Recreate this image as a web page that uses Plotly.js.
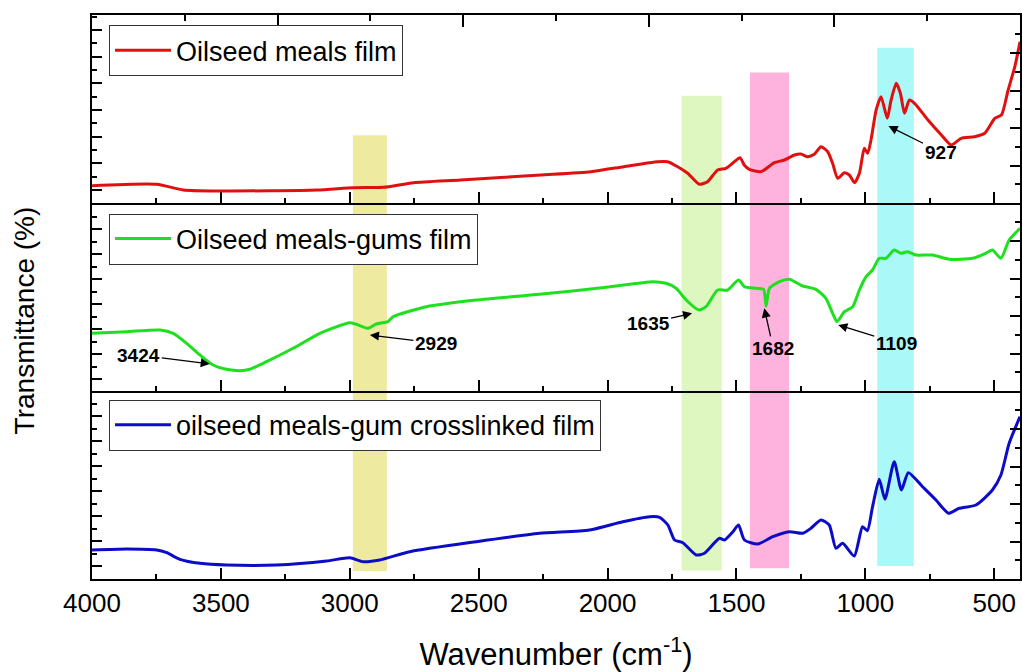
<!DOCTYPE html>
<html><head><meta charset="utf-8">
<script src="https://cdn.plot.ly/plotly-3.0.1.min.js"></script>
<style>html,body{margin:0;padding:0;background:#fff}#chart{width:1022px;height:672px}</style>
</head><body><div id="chart"></div>
<script>
// ---- data ----
const seriesNames = ["Oilseed meals film", "Oilseed meals-gums film", "oilseed meals-gum crosslinked film"];

const redWn = [4000,3749,3646,3503,3127,2986,2870,2753,2570,2259,2065,1937,1806,1767,1728,1689,1644,1612,1573,1541,1515,1486,1470,1450,1405,1353,1314,1275,1250,1224,1198,1172,1146,1127,1107,1081,1062,1042,1023,1004,991,978,958,939,915,900,880,864,848,829,809,757,705,667,628,576,537,498,472,446,420,400];
const redT  = [17.3,18.7,13,12,13,15.3,15.7,20.3,23,28,31.3,36.3,41.3,41.3,36.3,29.7,18.7,21.3,33,34.7,39.7,45.3,38,33.7,31.3,40.3,43,48,49,46.3,48.7,56.3,51.3,39.7,24.7,30.3,28,20.3,29.7,54.7,49.7,63,93,106.3,84.7,103,119.7,109.7,89.7,103,99.7,83,68,58,64.7,66.3,69.7,84.7,88,113,136.3,161.3];

const greenWn = [4000,3865,3736,3685,3633,3581,3530,3478,3426,3388,3323,3220,3116,3000,2974,2929,2897,2852,2832,2703,2509,2264,2005,1824,1773,1734,1695,1646,1618,1573,1534,1492,1469,1424,1395,1385,1372,1333,1295,1243,1192,1153,1127,1110,1081,1049,1023,997,972,946,920,888,862,836,804,739,674,584,533,507,474,442,400];
const greenT  = [57.7,59.3,61,57.7,47.7,36,26,21.7,20.3,21.7,29.3,42.7,57.7,68.3,66.7,62.7,67,69.3,74.3,84.3,91,96.7,103.7,109.3,107.7,102.7,91,81,84.3,101,101,111,104.3,102.7,101.7,85,102.7,109.3,111.7,105,101.7,92.7,77.7,69.3,79.3,84.3,101,114.3,121,132.7,132.7,141,137.7,139.3,136,136,131.7,132.7,137.7,141,132.7,151,162.7];

const blueWn = [4000,3866,3749,3710,3659,3581,3478,3284,3090,3000,2948,2884,2767,2509,2264,2070,1941,1837,1798,1766,1740,1708,1656,1624,1566,1547,1514,1492,1469,1417,1359,1295,1243,1211,1172,1140,1114,1088,1043,1011,992,972,946,924,888,860,833,778,726,677,636,571,507,474,442,400];
const blueT  = [29,30,29,26.3,19.7,15.7,14,14,18,21.3,17.3,19,27.3,37.3,45.7,49,57.3,62.3,61.7,54,39,36.3,24,25.7,40.7,39,47.3,54,39,35,42.3,47.3,45.7,50.7,59,54,30.7,35.7,23,52.3,48.3,72.3,99.7,79.7,117.3,89,106.3,92.3,79,65.7,70.7,74,89,104,135.7,162.3];

// highlighted wavenumber regions (cm-1)
const bandFrom = [2988, 1713, 1448, 954];
const bandTo   = [2856, 1557, 1296, 812];

// peak labels: text, wavenumber pointed at, transmittance pointed at, panel
const peakText  = ["927", "3424", "2929", "1635", "1682", "1109"];
const peakWn    = [910, 3543, 2922, 1672, 1392, 1105];
const peakT     = [77, 27, 56, 77.7, 82.7, 66];
const peakPanel = [1, 2, 2, 2, 2, 2];

const xTickVals  = [4000, 3500, 3000, 2500, 2000, 1500, 1000, 500];
const xTickText  = ["4000", "3500", "3000", "2500", "2000", "1500", "1000", "500"];

// ---- styling ----
const FONT = "Liberation Sans, Arial, Helvetica, sans-serif";
const lineColors = ["#e01010", "#1fe01f", "#0c0cc8"];
const bandColors = ["rgba(232,228,130,0.75)", "rgba(214,244,176,0.8)", "rgba(252,160,212,0.8)", "rgba(150,246,246,0.8)"];
const bandTop    = [0.787, 0.857, 0.898, 0.942];
const bandBottom = [0.014, 0.015, 0.019, 0.023];

const traces = [
  {x: redWn, y: redT, name: seriesNames[0], xaxis: "x3", yaxis: "y", legend: "legend",
   type: "scatter", mode: "lines", line: {color: lineColors[0], width: 3, shape: "spline", smoothing: 0.6}},
  {x: greenWn, y: greenT, name: seriesNames[1], xaxis: "x2", yaxis: "y2", legend: "legend2",
   type: "scatter", mode: "lines", line: {color: lineColors[1], width: 3, shape: "spline", smoothing: 0.6}},
  {x: blueWn, y: blueT, name: seriesNames[2], xaxis: "x", yaxis: "y3", legend: "legend3",
   type: "scatter", mode: "lines", line: {color: lineColors[2], width: 3, shape: "spline", smoothing: 0.6}},
  // empty helper traces so the decorative tick axes exist
  {x: [], y: [], xaxis: "x4", yaxis: "y", showlegend: false, hoverinfo: "skip"},
  {x: [], y: [], xaxis: "x3", yaxis: "y4", showlegend: false, hoverinfo: "skip"},
  {x: [], y: [], xaxis: "x2", yaxis: "y5", showlegend: false, hoverinfo: "skip"},
  {x: [], y: [], xaxis: "x", yaxis: "y6", showlegend: false, hoverinfo: "skip"}
];

const tickFont = {family: FONT, size: 26, color: "#000"};
function xAxis(anchor, labels, mirror) {
  return {
    anchor: anchor, domain: [0, 1], range: [4000, 400], autorange: false,
    tickmode: "array", tickvals: xTickVals, ticktext: xTickText,
    showticklabels: labels, tickfont: tickFont,
    ticks: "inside", ticklen: 11, tickwidth: 2, tickcolor: "#000",
    minor: {dtick: 250, tick0: 0, ticks: "inside", ticklen: 5, tickwidth: 2, tickcolor: "#000"},
    showline: true, linewidth: 2, linecolor: "#000", mirror: mirror,
    showgrid: false, zeroline: false, fixedrange: true
  };
}
function yAxis(domain, anchor, tick0, dtick) {
  return {
    domain: domain, anchor: anchor, range: [0, 188], autorange: false,
    tickmode: "linear", tick0: tick0, dtick: dtick, showticklabels: false,
    ticks: "inside", ticklen: 10, tickwidth: 2, tickcolor: "#000",
    minor: {tick0: tick0, dtick: dtick / 2, ticks: "inside", ticklen: 5, tickwidth: 2, tickcolor: "#000"},
    showline: true, linewidth: 2, linecolor: "#000", mirror: true,
    showgrid: false, zeroline: false, fixedrange: true
  };
}
function yRight(over, anchor) {
  return {
    overlaying: over, anchor: anchor, side: "right", range: [0, 188], autorange: false,
    tickmode: "linear", tick0: 0, dtick: 37.5, showticklabels: false,
    ticks: "inside", ticklen: 10, tickwidth: 2, tickcolor: "#000",
    minor: {tick0: 0, dtick: 18.75, ticks: "inside", ticklen: 5, tickwidth: 2, tickcolor: "#000"},
    showline: false, showgrid: false, zeroline: false, fixedrange: true
  };
}

const xMain = xAxis("y3", true, false);
xMain.title = {text: "Wavenumber (cm<sup>-1</sup>)", font: {family: FONT, size: 31, color: "#000"}, standoff: 26};

const shapes = bandFrom.map((b, i) => ({
  type: "rect", layer: "below", xref: "x", yref: "paper",
  x0: b, x1: bandTo[i], y0: bandBottom[i], y1: bandTop[i],
  fillcolor: bandColors[i], line: {width: 0}
}));

// pixel offsets from arrow head to label centre
const peakAx = [52, -71, 66, -44, 9, 58];
const peakAy = [26, -9, 8, 10, 40, 18];
const panelAxes = {1: ["x3", "y"], 2: ["x2", "y2"], 3: ["x", "y3"]};
const annotations = peakText.map((t, i) => ({
  text: "<b>" + t + "</b>", xref: panelAxes[peakPanel[i]][0], yref: panelAxes[peakPanel[i]][1],
  x: peakWn[i], y: peakT[i], ax: peakAx[i], ay: peakAy[i],
  showarrow: true, arrowhead: 2, arrowsize: 1.4, arrowwidth: 1.3, arrowcolor: "#000",
  font: {family: FONT, size: 19, color: "#000"}
}));
annotations.push({
  text: "Transmittance (%)", xref: "paper", yref: "paper", x: -0.073, y: 0.459,
  xanchor: "center", yanchor: "middle",
  textangle: -90, showarrow: false, font: {family: FONT, size: 28, color: "#000"}
});

function legendBox(y) {
  return {x: 0.0183, y: y, xanchor: "left", yanchor: "top", bgcolor: "#fff",
          bordercolor: "#333", borderwidth: 1, itemwidth: 56,
          font: {family: FONT, size: 27, color: "#000"}, tracegroupgap: 0};
}

const layout = {
  width: 1022, height: 672,
  margin: {l: 92, r: 2, t: 15, b: 93},
  paper_bgcolor: "#fff", plot_bgcolor: "rgba(0,0,0,0)",
  font: {family: FONT, color: "#000"},
  xaxis: xMain,
  xaxis2: Object.assign(xAxis("y2", false, false), {matches: "x"}),
  xaxis3: Object.assign(xAxis("y", false, true), {matches: "x"}),
  xaxis4: {overlaying: "x3", anchor: "y", side: "top", range: [0, 10], autorange: false,
           tickmode: "linear", tick0: 0, dtick: 2, showticklabels: false,
           ticks: "inside", ticklen: 12, tickwidth: 2, tickcolor: "#000",
           minor: {tick0: 0, dtick: 1, ticks: "inside", ticklen: 6, tickwidth: 2, tickcolor: "#000"},
           showline: false, showgrid: false, zeroline: false, fixedrange: true},
  yaxis: yAxis([2/3, 1], "x3", 13, 26.67),
  yaxis2: yAxis([1/3, 2/3], "x2", 12, 25),
  yaxis3: yAxis([0, 1/3], "x", 13, 25),
  yaxis4: yRight("y", "x3"),
  yaxis5: yRight("y2", "x2"),
  yaxis6: yRight("y3", "x"),
  legend: legendBox(0.982),
  legend2: legendBox(0.648),
  legend3: legendBox(0.318),
  shapes: shapes,
  annotations: annotations,
  showlegend: true
};

Plotly.newPlot("chart", traces, layout, {displayModeBar: false, staticPlot: true});
</script>
</body></html>
